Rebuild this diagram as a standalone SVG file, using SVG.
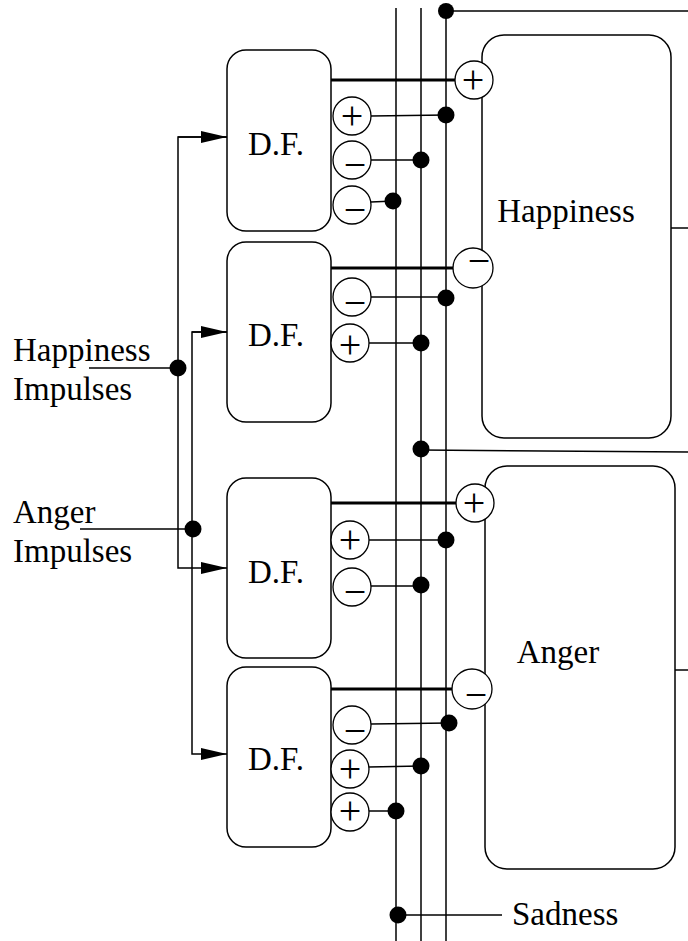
<svg xmlns="http://www.w3.org/2000/svg" width="688" height="941" viewBox="0 0 688 941">
<style>
.ln{stroke:#000;stroke-width:1.5;fill:none}
.th{stroke:#000;stroke-width:3;fill:none}
.box{stroke:#000;stroke-width:1.5;fill:#fff}
.c{stroke:#000;stroke-width:1.3;fill:#fff}
.dot{fill:#000}
.t{font-family:"Liberation Serif","Times New Roman",serif;font-size:33px;fill:#000}
.s{font-family:"Liberation Serif","Times New Roman",serif;font-size:40px;fill:#000;text-anchor:middle}
</style>
<defs>
<marker id="arr" markerUnits="userSpaceOnUse" markerWidth="26" markerHeight="14" refX="26" refY="7" orient="auto">
<path d="M0,1 L26,7 L0,13 z" fill="#000"/>
</marker>
</defs>
<rect width="688" height="941" fill="#fff"/>

<g id="connectors">
<line class="ln" x1="396" y1="8" x2="396" y2="941"/>
<line class="ln" x1="421" y1="8" x2="421" y2="941"/>
<line class="ln" x1="446" y1="11" x2="446" y2="941"/>
<line class="ln" x1="446" y1="11" x2="688" y2="11"/>
<line class="ln" x1="421" y1="450" x2="688" y2="452"/>
<line class="ln" x1="671" y1="228" x2="688" y2="228"/>
<line class="ln" x1="675" y1="670" x2="688" y2="670"/>
<line class="ln" x1="398" y1="915" x2="502" y2="915"/>
<line class="ln" x1="89" y1="368" x2="178" y2="368"/>
<line class="ln" x1="80" y1="529" x2="192" y2="529"/>
<path class="ln" d="M227,137 H178 V568 H227" marker-end="url(#arr)"/>
<path class="ln" d="M178,137 H227" marker-end="url(#arr)"/>
<path class="ln" d="M227,332 H192 V754 H227" marker-end="url(#arr)"/>
<path class="ln" d="M192,332 H227" marker-end="url(#arr)"/>
<line class="th" x1="331" y1="80" x2="455" y2="80"/>
<line class="th" x1="331" y1="268" x2="454" y2="268"/>
<line class="th" x1="331" y1="503" x2="456" y2="503"/>
<line class="th" x1="331" y1="689" x2="452" y2="689"/>
<line class="ln" x1="371" y1="116" x2="446" y2="115"/>
<line class="ln" x1="371" y1="160" x2="421" y2="160"/>
<line class="ln" x1="371" y1="202" x2="394" y2="201"/>
<line class="ln" x1="371" y1="297" x2="446" y2="297"/>
<line class="ln" x1="369" y1="343" x2="421" y2="343"/>
<line class="ln" x1="369" y1="540" x2="446" y2="540"/>
<line class="ln" x1="371" y1="586" x2="421" y2="586"/>
<line class="ln" x1="371" y1="724" x2="449" y2="723"/>
<line class="ln" x1="369" y1="767" x2="421" y2="766"/>
<line class="ln" x1="369" y1="811" x2="395" y2="811"/>
<circle class="dot" cx="446" cy="11" r="8"/>
<circle class="dot" cx="446" cy="115" r="8.5"/>
<circle class="dot" cx="421" cy="160" r="8.5"/>
<circle class="dot" cx="393" cy="201" r="8.5"/>
<circle class="dot" cx="446" cy="298" r="8.5"/>
<circle class="dot" cx="421" cy="343" r="8.5"/>
<circle class="dot" cx="421" cy="449" r="8.5"/>
<circle class="dot" cx="178" cy="368" r="8.5"/>
<circle class="dot" cx="193" cy="529" r="8.5"/>
<circle class="dot" cx="446" cy="540" r="8.5"/>
<circle class="dot" cx="421" cy="585" r="8.5"/>
<circle class="dot" cx="449" cy="723" r="8.5"/>
<circle class="dot" cx="421" cy="766" r="8.5"/>
<circle class="dot" cx="396" cy="811" r="8.5"/>
<circle class="dot" cx="398" cy="915" r="8.5"/>
</g>

<g id="happiness">
<rect class="box" x="482" y="35" width="189" height="403" rx="22"/>
<text class="t" x="566" y="222" text-anchor="middle">Happiness</text>
</g>
<g id="anger">
<rect class="box" x="485" y="466" width="190" height="403" rx="22"/>
<text class="t" x="558" y="663" text-anchor="middle">Anger</text>
</g>

<g id="df1">
<rect class="box" x="227" y="50" width="104" height="181" rx="19"/>
<text class="t" x="276" y="155" text-anchor="middle">D.F.</text>
<circle class="c" cx="352" cy="116" r="19"/><text class="s" x="352" y="129">+</text>
<circle class="c" cx="352" cy="160" r="19"/><text class="s" x="355" y="178">−</text>
<circle class="c" cx="352" cy="205" r="19"/><text class="s" x="355" y="223">−</text>
<circle class="c" cx="474" cy="80" r="19"/><text class="s" x="473" y="93">+</text>
</g>
<g id="df2">
<rect class="box" x="227" y="242" width="104" height="180" rx="19"/>
<text class="t" x="276" y="346" text-anchor="middle">D.F.</text>
<circle class="c" cx="352" cy="297" r="19"/><text class="s" x="355" y="316">−</text>
<circle class="c" cx="350" cy="343" r="19"/><text class="s" x="350" y="358">+</text>
<circle class="c" cx="473" cy="268" r="20"/><text class="s" x="479" y="274">−</text>
</g>
<g id="df3">
<rect class="box" x="227" y="478" width="104" height="180" rx="19"/>
<text class="t" x="276" y="583" text-anchor="middle">D.F.</text>
<circle class="c" cx="350" cy="540" r="19"/><text class="s" x="350" y="553">+</text>
<circle class="c" cx="352" cy="587" r="19"/><text class="s" x="355" y="605">−</text>
<circle class="c" cx="475" cy="503" r="19"/><text class="s" x="474" y="516">+</text>
</g>
<g id="df4">
<rect class="box" x="227" y="667" width="104" height="180" rx="19"/>
<text class="t" x="276" y="770" text-anchor="middle">D.F.</text>
<circle class="c" cx="352" cy="725" r="19"/><text class="s" x="355" y="744">−</text>
<circle class="c" cx="350" cy="769" r="19"/><text class="s" x="350" y="782">+</text>
<circle class="c" cx="350" cy="812" r="19"/><text class="s" x="350" y="824">+</text>
<circle class="c" cx="472" cy="689" r="20"/><text class="s" x="476" y="708">−</text>
</g>

<g id="labels">
<text class="t" x="13" y="361">Happiness</text>
<text class="t" x="13" y="400">Impulses</text>
<text class="t" x="13" y="523">Anger</text>
<text class="t" x="13" y="562">Impulses</text>
<text class="t" x="512" y="925">Sadness</text>
</g>
</svg>
